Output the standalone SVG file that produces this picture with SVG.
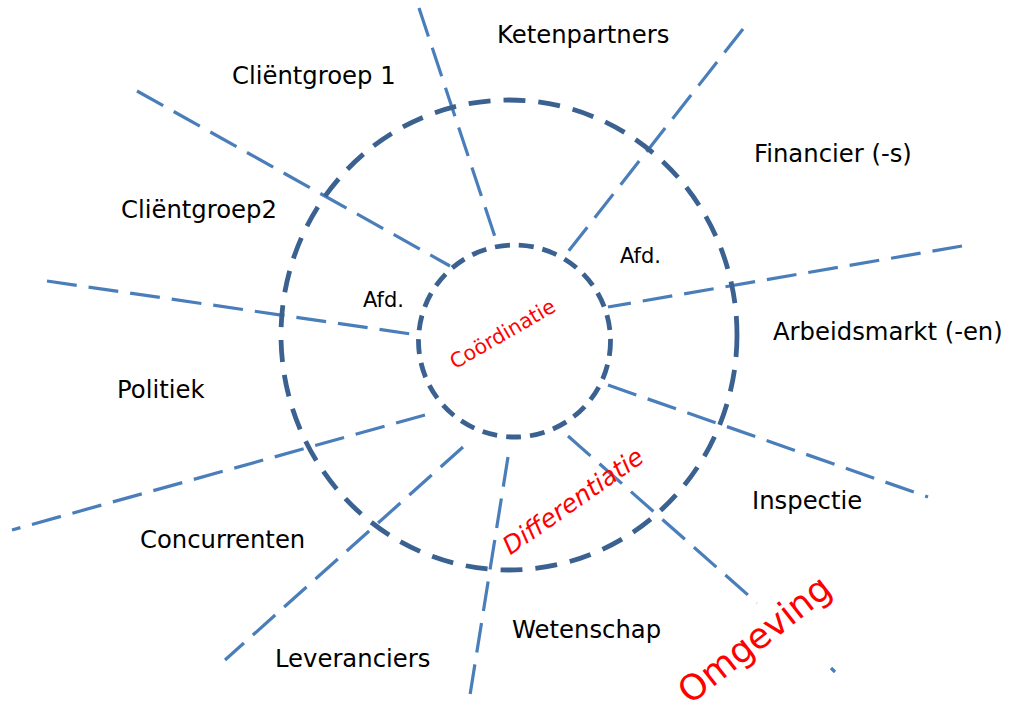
<svg xmlns="http://www.w3.org/2000/svg" width="1009" height="713" viewBox="0 0 1009 713">
<style>
.ln{stroke:#4A7EBB;stroke-width:3.2;fill:none;stroke-dasharray:30 12}
.outer{stroke:#3A6190;stroke-width:4.8;fill:none;stroke-dasharray:22 13}
.inner{stroke:#3A6190;stroke-width:4.8;fill:none;stroke-dasharray:15 9}
.lbl{font-family:"DejaVu Sans",Verdana,sans-serif;font-size:24.3px;fill:#000}
.afd{font-family:"DejaVu Sans",Verdana,sans-serif;font-size:21px;fill:#000}
.red{font-family:"DejaVu Sans",Verdana,sans-serif;fill:#FF0000;text-anchor:middle}
</style>
<rect width="1009" height="713" fill="#fff"/>
<g id="connectors">
<line class="ln" x1="419" y1="8" x2="498" y2="246"/>
<line class="ln" x1="743" y1="29" x2="567" y2="253"/>
<line class="ln" x1="962" y1="246" x2="608" y2="307"/>
<line class="ln" x1="608" y1="385" x2="928" y2="497"/>
<line class="ln" x1="568" y1="436" x2="757" y2="603"/>
<line class="ln" x1="831" y1="668" x2="835" y2="672" style="stroke-dasharray:none"/>
<line class="ln" x1="508" y1="457" x2="470" y2="695"/>
<line class="ln" x1="463" y1="447" x2="225" y2="660"/>
<line class="ln" x1="425" y1="415" x2="12" y2="530"/>
<line class="ln" x1="47" y1="281" x2="418" y2="335"/>
<line class="ln" x1="137" y1="91" x2="450" y2="266"/>
</g>
<g id="outer-circle"><ellipse class="outer" cx="509" cy="335" rx="228" ry="235"/></g>
<g id="inner-circle"><circle class="inner" cx="514.5" cy="341" r="96"/></g>
<g id="ketenpartners"><text class="lbl" x="497" y="43">Ketenpartners</text></g>
<g id="clientgroep1"><text class="lbl" x="232" y="84">Cliëntgroep 1</text></g>
<g id="financier"><text class="lbl" x="754" y="162">Financier (-s)</text></g>
<g id="clientgroep2"><text class="lbl" x="121" y="218">Cliëntgroep2</text></g>
<g id="afd-right"><text class="afd" x="620" y="263">Afd.</text></g>
<g id="afd-left"><text class="afd" x="363" y="307">Afd.</text></g>
<g id="arbeidsmarkt"><text class="lbl" x="773" y="340">Arbeidsmarkt (-en)</text></g>
<g id="politiek"><text class="lbl" x="117" y="398">Politiek</text></g>
<g id="concurrenten"><text class="lbl" x="140" y="548">Concurrenten</text></g>
<g id="leveranciers"><text class="lbl" x="275" y="667">Leveranciers</text></g>
<g id="wetenschap"><text class="lbl" x="512" y="638">Wetenschap</text></g>
<g id="inspectie"><text class="lbl" x="752" y="509">Inspectie</text></g>
<g id="coordinatie"><text class="red" font-size="20.5" transform="translate(506,340) rotate(-30)">Coördinatie</text></g>
<g id="differentiatie"><text class="red" font-size="25" font-style="italic" transform="translate(578,508) rotate(-35)">Differentiatie</text></g>
<g id="omgeving"><text class="red" font-size="35.5" transform="translate(762,649) rotate(-38)">Omgeving</text></g>
</svg>
